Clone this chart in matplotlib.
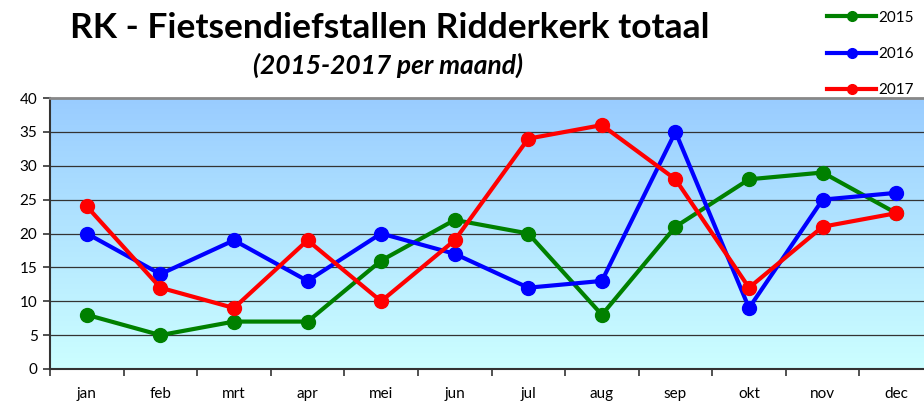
import numpy as np
import matplotlib.pyplot as plt
from matplotlib.colors import LinearSegmentedColormap

maanden = ['jan', 'feb', 'mrt', 'apr', 'mei', 'jun', 'jul', 'aug', 'sep', 'okt', 'nov', 'dec']
jaren = ['2015', '2016', '2017']
waarden_2015 = [8, 5, 7, 7, 16, 22, 20, 8, 21, 28, 29, 23]
waarden_2016 = [20, 14, 19, 13, 20, 17, 12, 13, 35, 9, 25, 26]
waarden_2017 = [24, 12, 9, 19, 10, 19, 34, 36, 28, 12, 21, 23]
kleuren = ['#008000', '#0000ff', '#ff0000']

plt.rcParams['font.family'] = ['Lato', 'DejaVu Sans']

fig = plt.figure(figsize=(9.24, 4.03), dpi=100)
ax = fig.add_axes([50 / 924, 34 / 403, 883 / 924, 271 / 403])

x = np.arange(len(maanden))
ax.set_xlim(-0.5, len(maanden) - 0.5)
ax.set_ylim(0, 40)

# achtergrond verloop
cmap = LinearSegmentedColormap.from_list('bg', ['#ccffff', '#99ccff'])
grad = np.linspace(0, 1, 256).reshape(-1, 1)
ax.imshow(grad, cmap=cmap, aspect='auto', origin='lower',
          extent=(-0.5, len(maanden) - 0.5, 0, 40), zorder=0)

for yv in range(5, 40, 5):
    ax.axhline(yv, color='#333333', lw=0.9, zorder=1)

reeksen = [waarden_2015, waarden_2016, waarden_2017]
for jaar, vals, kl in zip(jaren, reeksen, kleuren):
    ax.plot(x, vals, color=kl, lw=3, marker='o', markersize=10, label=jaar, zorder=3)

ax.set_yticks(range(0, 41, 5))
ax.set_xticks(x)
ax.set_xticklabels(maanden)
ax.set_xticks(np.arange(-0.5, len(maanden), 1), minor=True)
ax.tick_params(axis='x', which='major', length=0, pad=13, labelsize=11)
ax.tick_params(axis='x', which='minor', length=5, width=1.2, color='#333333')
ax.tick_params(axis='y', length=5, width=1.2, color='#333333', labelsize=11, pad=4)

ax.spines['top'].set_color('#888888')
ax.spines['top'].set_linewidth(2)
ax.spines['right'].set_visible(False)
ax.spines['left'].set_color('#333333')
ax.spines['left'].set_linewidth(1.5)
ax.spines['bottom'].set_color('#333333')
ax.spines['bottom'].set_linewidth(1.5)

fig.text(390 / 924, 1 - 28 / 403, 'RK - Fietsendiefstallen Ridderkerk totaal',
         ha='center', va='center', fontsize=25.5, fontweight='bold')
fig.text(388 / 924, 1 - 65 / 403, '(2015-2017 per maand)',
         ha='center', va='center', fontsize=19, fontweight='bold', style='italic')

leg = fig.legend(loc='upper right', bbox_to_anchor=(1.0, 1.0), frameon=False,
                 fontsize=11, handlelength=3.2, handletextpad=0.1,
                 labelspacing=1.45, borderaxespad=0.3)
for h in leg.get_lines():
    h.set_markersize(7)

fig.savefig('out.png', dpi=100)
